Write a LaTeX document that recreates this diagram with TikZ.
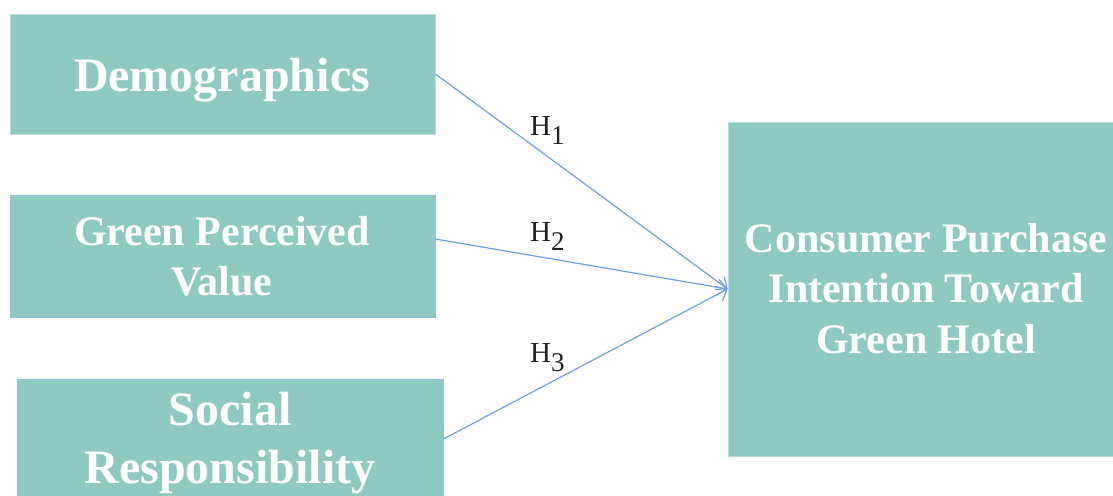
\documentclass[tikz,border=0pt]{standalone}
\usepackage{fontspec}
\setmainfont{Liberation Serif}
\usetikzlibrary{arrows.meta}
\definecolor{boxfill}{HTML}{8ECAC2}
\definecolor{boxedge}{HTML}{B9DEDA}
\definecolor{blueedge}{HTML}{8EC3EA}
\definecolor{arrowblue}{HTML}{6D9EEB}
\definecolor{labelgray}{HTML}{222222}
\tikzset{
  box/.style={rectangle, fill=boxfill, draw=boxedge, line width=0.8pt, inner sep=0pt},
  bluebox/.style={box, draw=blueedge},
  bigtext/.style={font=\fontsize{48}{57}\selectfont\bfseries, text=white, anchor=base, inner sep=0pt},
  midtext/.style={font=\fontsize{42}{50}\selectfont\bfseries, text=white, anchor=base, inner sep=0pt},
  hyp/.style={font=\fontsize{29}{34}\selectfont, text=labelgray, anchor=base west, inner sep=0pt},
  link/.style={draw=arrowblue, line width=1.2pt, -{Straight Barb[length=9pt,width=16pt,line width=1.2pt]}}
}
\begin{document}
\begin{tikzpicture}[x=1pt,y=-1pt]
\useasboundingbox (0,0) rectangle (1113,495);
% boxes
\node[box, minimum width=425pt, minimum height=120pt] (demo) at (222.5,74) {};
\node[bluebox, minimum width=425pt, minimum height=122pt] (green) at (222.5,256) {};
\node[bluebox, minimum width=426pt, minimum height=120pt] (social) at (230,439) {};
\node[box, minimum width=396pt, minimum height=334pt] (cons) at (926,289) {};
% texts
\node[bigtext] (demot) at (222,91) {Demographics};
\node[midtext] (greent1) at (222,245) {Green Perceived};
\node[midtext] (greent2) at (222,295) {Value};
\node[bigtext] (socialt1) at (230,425) {Social};
\node[bigtext] (socialt2) at (230,483) {Responsibility};
\node[midtext] (const1) at (926,252) {Consumer Purchase};
\node[midtext] (const2) at (926,302) {Intention Toward};
\node[midtext] (const3) at (926,353) {Green Hotel};
% connectors
\coordinate (gsrc) at ([yshift=17pt]green.east);
\draw[link] (demo.east) -- (cons.west);
\draw[link] (gsrc) -- (cons.west);
\draw[link] (social.east) -- (cons.west);
% hypothesis labels
\node[hyp] (h1) at (530,135) {H\raisebox{-9pt}{\fontsize{27}{32}\selectfont 1}};
\node[hyp] (h2) at (530,241) {H\raisebox{-9pt}{\fontsize{27}{32}\selectfont 2}};
\node[hyp] (h3) at (530,362) {H\raisebox{-9pt}{\fontsize{27}{32}\selectfont 3}};
\end{tikzpicture}
\end{document}
